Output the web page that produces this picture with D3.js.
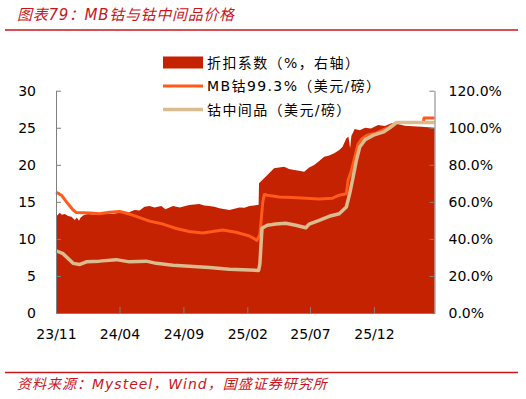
<!DOCTYPE html>
<meta charset="utf-8">
<script src="https://d3js.org/d3.v7.min.js"></script>
<style>
  body { margin: 0; background: #fff; }
  text { font-family: "DejaVu Sans", "Noto Sans CJK SC", sans-serif; }
</style>
<body>
<div id="canvas"></div>
<script>

	// 折扣系数（%，右轴）
	var ratioDates = ["2023-11-01","2023-11-10","2023-11-15","2023-11-22","2023-11-30","2023-12-08","2023-12-16",
		"2023-12-21","2023-12-26","2023-12-30","2024-01-07","2024-01-17","2024-02-02","2024-02-26","2024-03-14",
		"2024-04-05","2024-04-20","2024-05-07","2024-05-19","2024-05-31","2024-06-12","2024-06-24","2024-07-10",
		"2024-07-20","2024-08-07","2024-08-23","2024-09-15","2024-10-09","2024-10-21","2024-11-02","2024-11-14",
		"2024-11-26","2024-12-20","2025-01-13","2025-01-25","2025-02-06","2025-02-25","2025-02-28","2025-03-01",
		"2025-03-10","2025-03-21","2025-04-06","2025-04-18","2025-04-30","2025-05-12","2025-05-24","2025-06-05",
		"2025-06-17","2025-06-29","2025-07-11","2025-07-23","2025-08-04","2025-08-16","2025-08-28","2025-09-09",
		"2025-09-17","2025-09-26","2025-10-01","2025-10-05","2025-10-08","2025-10-16","2025-10-28","2025-11-10",
		"2025-11-24","2025-12-11","2025-12-27","2026-01-12","2026-01-27","2026-02-13","2026-03-04","2026-03-25",
		"2026-04-25"];
	var ratioValues = [0.520,0.541,0.530,0.534,0.524,0.520,0.502,
		0.515,0.498,0.515,0.529,0.534,0.530,0.538,0.534,
		0.543,0.540,0.556,0.553,0.574,0.577,0.570,0.577,
		0.560,0.578,0.570,0.583,0.588,0.580,0.578,0.574,
		0.565,0.556,0.570,0.568,0.578,0.583,0.585,0.700,
		0.720,0.745,0.781,0.785,0.790,0.778,0.772,0.768,
		0.763,0.785,0.799,0.820,0.844,0.850,0.862,0.880,
		0.898,0.943,0.952,0.889,0.955,0.993,0.986,1.000,
		0.996,1.015,1.010,1.024,1.020,1.011,1.008,1.006,
		1.000];

	// MB钴99.3%（美元/磅）
	var mbDates = ["2023-11-01","2023-11-08","2023-11-14","2023-11-26","2023-12-12","2023-12-20","2024-01-21",
		"2024-02-13","2024-03-08","2024-04-01","2024-04-17","2024-05-11","2024-06-12","2024-07-14","2024-08-15",
		"2024-09-15","2024-10-17","2024-12-04","2025-01-05","2025-02-06","2025-02-24","2025-03-03","2025-03-10",
		"2025-03-14","2025-03-21","2025-04-18","2025-05-20","2025-06-21","2025-07-23","2025-08-24","2025-09-09",
		"2025-09-26","2025-09-30","2025-10-08","2025-10-16","2025-10-24","2025-11-02","2025-11-14","2025-12-07",
		"2025-12-31","2026-01-16","2026-01-24","2026-03-29","2026-03-31","2026-04-25"];
	var mbValues = [16.3,16.1,15.9,15.0,13.9,13.55,13.5,
		13.4,13.6,13.7,13.5,13.05,12.4,12.0,11.4,
		11.0,10.8,11.2,10.9,10.4,9.8,10.6,15.0,
		16.0,15.9,15.65,15.6,15.5,15.4,15.5,15.9,
		16.1,17.9,19.2,21.0,22.8,23.5,24.0,24.3,
		24.9,25.4,25.7,25.7,26.3,26.3];

	// 钴中间品（美元/磅）
	var midDates = ["2023-11-01","2023-11-18","2023-11-30","2023-12-12","2023-12-28","2024-01-13","2024-02-13",
		"2024-03-24","2024-04-25","2024-06-04","2024-06-28","2024-08-07","2024-09-15","2024-11-02","2024-12-20",
		"2025-02-06","2025-02-28","2025-03-03","2025-03-08","2025-03-13","2025-03-21","2025-04-10","2025-05-04",
		"2025-05-28","2025-06-21","2025-06-29","2025-07-23","2025-08-16","2025-09-09","2025-09-26","2025-10-04",
		"2025-10-12","2025-10-20","2025-10-28","2025-11-10","2025-11-30","2025-12-23","2026-01-08","2026-01-24",
		"2026-04-25"];
	var midValues = [8.4,8.0,7.35,6.7,6.55,6.9,7.0,
		7.2,6.9,7.0,6.7,6.45,6.3,6.15,5.9,
		5.8,5.75,6.6,11.4,11.6,11.85,12.0,12.1,
		11.85,11.5,12.0,12.5,13.05,13.4,14.3,16.1,
		18.3,20.6,22.4,23.4,24.0,24.4,25.0,25.7,
		25.7];

	var xTickDates = ["2023-11-01","2024-04-01","2024-09-01","2025-02-01","2025-07-01","2025-12-01"];
	var leftTicks = [0,5,10,15,20,25,30];
	var rightTicks = [0,0.2,0.4,0.6,0.8,1.0,1.2];
	var legendLabels = ["折扣系数（%，右轴）","MB钴99.3%（美元/磅）","钴中间品（美元/磅）"];

	var width = 526;
	var height = 399;
	var red = "#c8161d";
	var areaColor = "#c42200";
	var mbColor = "#ff5a1a";
	var midColor = "#dbbb90";
	var axisColor = "#808080";

	var parse = d3.timeParse("%Y-%m-%d");

	var svg = d3.select("#canvas")
		.append("svg")
		.attr("width", width)
		.attr("height", height);

	// titulo e rodape
	svg.append("text")
		.attr("x", 17).attr("y", 20)
		.attr("fill", red)
		.style("font-size", "15px")
		.style("font-style", "italic")
		.style("letter-spacing", "0.7px")
		.text("图表79：MB钴与钴中间品价格");
	svg.append("line")
		.attr("x1", 5).attr("x2", 518)
		.attr("y1", 30).attr("y2", 30)
		.attr("stroke", red).attr("stroke-width", 1.6);
	svg.append("line")
		.attr("x1", 5).attr("x2", 518)
		.attr("y1", 372.5).attr("y2", 372.5)
		.attr("stroke", red).attr("stroke-width", 1.6);
	svg.append("text")
		.attr("x", 17).attr("y", 389)
		.attr("fill", red)
		.style("font-size", "14px")
		.style("font-style", "italic")
		.style("letter-spacing", "1px")
		.text("资料来源：Mysteel，Wind，国盛证券研究所");

	// escalas
	var pL = 56, pR = 434.5, pT = 90.7, pB = 313;
	var x = d3.scaleTime()
		.domain([parse("2023-11-01"), parse("2026-04-25")])
		.range([pL, pR]);
	var y = d3.scaleLinear().domain([0, 30]).range([pB, pT]);
	var yR = d3.scaleLinear().domain([0, 1.2]).range([pB, pT]);

	var ratio = ratioDates.map(function(d, i){ return {date: parse(d), v: ratioValues[i]}; });
	var mb = mbDates.map(function(d, i){ return {date: parse(d), v: mbValues[i]}; });
	var mid = midDates.map(function(d, i){ return {date: parse(d), v: midValues[i]}; });

	// area do 折扣系数
	svg.append("path")
		.datum(ratio)
		.attr("fill", areaColor)
		.attr("d", d3.area()
			.x(function(d){ return x(d.date); })
			.y0(yR(0))
			.y1(function(d){ return yR(d.v); }));

	var line = d3.line()
		.x(function(d){ return x(d.date); })
		.y(function(d){ return y(d.v); });

	svg.append("path")
		.datum(mb)
		.attr("fill", "none")
		.attr("stroke", mbColor)
		.attr("stroke-width", 3)
		.attr("stroke-linejoin", "round")
		.attr("d", line);

	svg.append("path")
		.datum(mid)
		.attr("fill", "none")
		.attr("stroke", midColor)
		.attr("stroke-width", 3.5)
		.attr("stroke-linejoin", "round")
		.attr("d", line);

	// eixos
	function styleAxis(g){
		g.selectAll("path, line").attr("stroke", axisColor);
		g.selectAll("text").attr("fill", "#000").style("font-size", "14px")
			.style("font-family", "'DejaVu Sans', sans-serif");
	}

	svg.append("g")
		.attr("transform", "translate(" + pL + ",0)")
		.call(d3.axisLeft(y).tickValues(leftTicks).tickSizeInner(-5).tickSizeOuter(0).tickPadding(20))
		.call(styleAxis);

	svg.append("g")
		.attr("transform", "translate(" + pR + ",0)")
		.call(d3.axisRight(yR).tickValues(rightTicks).tickFormat(d3.format(".1%"))
			.tickSizeInner(-5).tickSizeOuter(0).tickPadding(14))
		.call(styleAxis);

	svg.append("g")
		.attr("transform", "translate(0," + pB + ")")
		.call(d3.axisBottom(x).tickValues(xTickDates.map(parse)).tickFormat(d3.timeFormat("%y/%m"))
			.tickSizeInner(-6).tickSizeOuter(0).tickPadding(16))
		.call(styleAxis);

	// legenda
	var legend = svg.append("g").attr("transform", "translate(163,0)");
	var rows = [56.5, 80, 103.5];
	legend.append("rect")
		.attr("x", 0).attr("y", rows[0]).attr("width", 40).attr("height", 12)
		.attr("fill", areaColor);
	legend.append("line")
		.attr("x1", 0).attr("x2", 40).attr("y1", rows[1] + 6).attr("y2", rows[1] + 6)
		.attr("stroke", mbColor).attr("stroke-width", 3);
	legend.append("line")
		.attr("x1", 0).attr("x2", 40).attr("y1", rows[2] + 6).attr("y2", rows[2] + 6)
		.attr("stroke", midColor).attr("stroke-width", 3.5);
	legend.selectAll("text.lab")
		.data(legendLabels)
		.enter()
		.append("text")
		.attr("class", "lab")
		.attr("x", 44)
		.attr("y", function(d, i){ return rows[i] + 11; })
		.attr("fill", "#000")
		.style("font-size", "14px")
		.style("letter-spacing", "1.4px")
		.text(function(d){ return d; });

</script>
</body>
